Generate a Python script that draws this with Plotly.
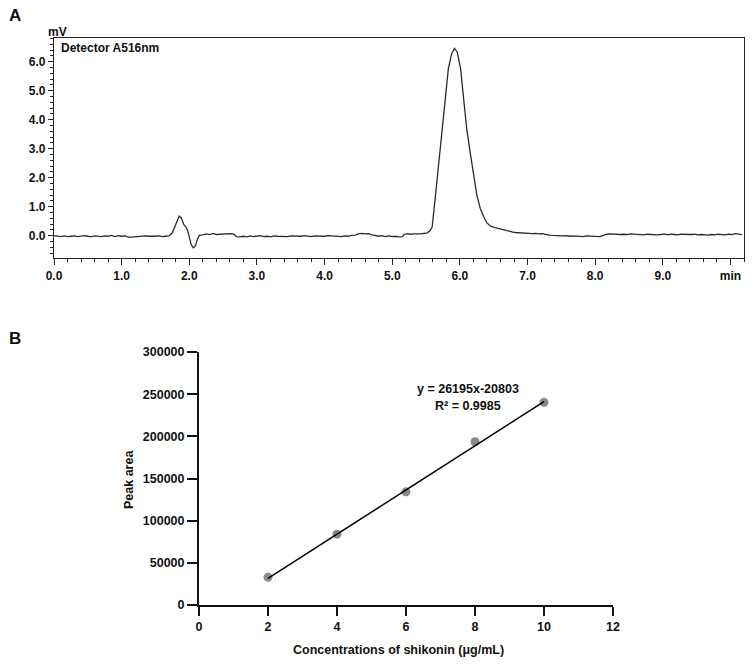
import numpy as np
import plotly.graph_objects as go

# ---- panel A: chromatogram ----
time_min = [
    0.00, 0.05, 0.10, 0.15, 0.20, 0.25, 0.30, 0.35, 0.40, 0.45, 0.50, 0.55, 0.60, 0.65, 0.70,
    0.75, 0.80, 0.85, 0.90, 0.95, 1.00, 1.05, 1.10, 1.15, 1.20, 1.25, 1.30, 1.35, 1.40, 1.45,
    1.50, 1.55, 1.60, 1.65, 1.70, 1.75, 1.80, 1.85, 1.88, 1.92, 1.95, 1.98, 2.00, 2.03, 2.06,
    2.09, 2.12, 2.15, 2.20, 2.25, 2.30, 2.35, 2.40, 2.45, 2.50, 2.55, 2.60, 2.65, 2.70, 2.75,
    2.80, 2.85, 2.90, 2.95, 3.00, 3.05, 3.10, 3.15, 3.20, 3.25, 3.30, 3.35, 3.40, 3.45, 3.50,
    3.55, 3.60, 3.65, 3.70, 3.75, 3.80, 3.85, 3.90, 3.95, 4.00, 4.05, 4.10, 4.15, 4.20, 4.25,
    4.30, 4.35, 4.40, 4.45, 4.50, 4.55, 4.60, 4.65, 4.70, 4.75, 4.80, 4.85, 4.90, 4.95, 5.00,
    5.05, 5.10, 5.15, 5.18, 5.22, 5.27, 5.32, 5.37, 5.42, 5.47, 5.52, 5.56, 5.59, 5.64, 5.69,
    5.74, 5.79, 5.83, 5.88, 5.92, 5.96, 6.01, 6.06, 6.10, 6.15, 6.20, 6.25, 6.30, 6.35, 6.40,
    6.46, 6.52, 6.57, 6.62, 6.67, 6.72, 6.77, 6.82, 6.87, 6.92, 6.97, 7.02, 7.07, 7.12, 7.17,
    7.22, 7.27, 7.32, 7.37, 7.42, 7.47, 7.52, 7.57, 7.62, 7.67, 7.72, 7.77, 7.82, 7.87, 7.92,
    7.97, 8.02, 8.07, 8.12, 8.17, 8.22, 8.27, 8.32, 8.37, 8.42, 8.47, 8.52, 8.57, 8.62, 8.67,
    8.72, 8.77, 8.82, 8.87, 8.92, 8.97, 9.02, 9.07, 9.12, 9.17, 9.22, 9.27, 9.32, 9.37, 9.42,
    9.47, 9.52, 9.57, 9.62, 9.67, 9.72, 9.77, 9.82, 9.87, 9.92, 9.97, 10.02, 10.07, 10.12, 10.17,
]
signal_mv = [
    0.00, -0.02, -0.03, -0.01, -0.03, -0.02, -0.01, -0.03, -0.02, 0.00, -0.02, -0.03, -0.01, -0.02, -0.03,
    -0.01, -0.02, 0.01, -0.03, 0.00, -0.02, -0.01, -0.05, -0.05, -0.04, -0.02, -0.03, -0.01, -0.02, -0.03,
    -0.02, -0.01, -0.03, -0.02, -0.01, 0.10, 0.42, 0.68, 0.62, 0.38, 0.30, 0.15, -0.05, -0.32, -0.42,
    -0.35, -0.12, 0.02, 0.03, 0.06, 0.04, 0.08, 0.04, 0.05, 0.04, 0.06, 0.07, 0.06, -0.03, -0.04,
    -0.02, -0.04, -0.01, -0.03, -0.02, 0.00, -0.03, -0.02, -0.04, -0.01, -0.02, -0.03, -0.02, -0.03, -0.01,
    -0.02, -0.03, -0.02, 0.00, -0.02, -0.03, -0.01, -0.02, -0.03, -0.02, 0.00, -0.01, -0.03, -0.02, -0.03,
    -0.01, -0.02, 0.01, 0.02, 0.06, 0.08, 0.06, 0.07, 0.03, 0.01, -0.02, 0.00, -0.03, -0.01, -0.03,
    -0.02, -0.04, -0.03, 0.05, 0.07, 0.05, 0.06, 0.05, 0.06, 0.08, 0.10, 0.18, 0.30, 1.41, 2.56,
    3.71, 4.85, 5.77, 6.29, 6.46, 6.34, 5.77, 4.62, 3.71, 2.90, 2.10, 1.41, 0.95, 0.66, 0.44,
    0.32, 0.28, 0.25, 0.20, 0.17, 0.15, 0.13, 0.11, 0.10, 0.09, 0.09, 0.08, 0.07, 0.08, 0.06,
    0.07, 0.04, 0.02, 0.01, 0.00, 0.01, -0.01, 0.00, -0.02, -0.01, -0.02, -0.01, -0.03, -0.01, -0.02,
    -0.01, -0.02, -0.03, 0.01, 0.05, 0.06, 0.05, 0.06, 0.04, 0.05, 0.04, 0.06, 0.05, 0.04, 0.05,
    0.03, 0.05, 0.04, 0.05, 0.03, 0.04, 0.06, 0.03, 0.05, 0.04, 0.03, 0.05, 0.04, 0.03, 0.04,
    0.05, 0.03, 0.04, 0.03, 0.02, 0.04, 0.03, 0.05, 0.04, 0.03, 0.05, 0.04, 0.07, 0.05, 0.04,
]
time_ticks = [0, 1, 2, 3, 4, 5, 6, 7, 8, 9, 10]
time_labels = ["0.0", "1.0", "2.0", "3.0", "4.0", "5.0", "6.0", "7.0", "8.0", "9.0", "min"]
mv_ticks = [0, 1, 2, 3, 4, 5, 6]
mv_labels = ["0.0", "1.0", "2.0", "3.0", "4.0", "5.0", "6.0"]

# ---- panel B: calibration curve ----
conc = [2, 4, 6, 8, 10]
peak_area = [32900, 84000, 134200, 193600, 240300]
slope, intercept = 26195, -20803
conc_ticks = [0, 2, 4, 6, 8, 10, 12]

W, H = 753, 664
FONT = "Arial, Liberation Sans, sans-serif"

def px_x(p):
    return p / W

def px_y(p):
    return 1 - p / H

fig = go.Figure()

fig.add_trace(go.Scatter(x=time_min, y=signal_mv, mode="lines",
                         line=dict(color="#2b2b2b", width=1.3),
                         xaxis="x", yaxis="y", showlegend=False))

fig.add_trace(go.Scatter(x=conc, y=peak_area, mode="markers",
                         marker=dict(color="#8a8a8a", size=9),
                         xaxis="x2", yaxis="y2", showlegend=False))
fit_x = np.array(conc, dtype=float)
fig.add_trace(go.Scatter(x=fit_x, y=slope * fit_x + intercept, mode="lines",
                         line=dict(color="black", width=1.5),
                         xaxis="x2", yaxis="y2", showlegend=False))

tick_font = dict(family=FONT, size=12, color="#111", weight="bold")

fig.update_layout(
    width=W, height=H,
    margin=dict(l=0, r=0, t=0, b=0, autoexpand=False),
    paper_bgcolor="white", plot_bgcolor="white",
    xaxis=dict(domain=[px_x(54), px_x(744)], anchor="y", range=[0, 10.2],
               tickvals=time_ticks, ticktext=time_labels, tickfont=tick_font,
               showline=True, linecolor="#222", linewidth=1.3, mirror=True,
               ticks="outside", ticklen=6, tickwidth=1.2, tickcolor="#222",
               minor=dict(dtick=0.2, ticks="outside", ticklen=3, tickcolor="#222"),
               showgrid=False, zeroline=False, automargin=False),
    yaxis=dict(domain=[px_y(258), px_y(38)], anchor="x", range=[-0.77, 6.82],
               tickvals=mv_ticks, ticktext=mv_labels, tickfont=tick_font,
               showline=True, linecolor="#222", linewidth=1.3, mirror=True,
               ticks="outside", ticklen=5, tickwidth=1.2, tickcolor="#222",
               minor=dict(dtick=0.2, ticks="outside", ticklen=3, tickcolor="#222"),
               showgrid=False, zeroline=False, automargin=False),
    xaxis2=dict(domain=[px_x(199), px_x(613)], anchor="y2", range=[0, 12],
                tickvals=conc_ticks, tickfont=dict(tick_font, size=12.5),
                showline=True, linecolor="#111", linewidth=2,
                ticks="outside", ticklen=9, tickwidth=2, tickcolor="#111",
                showgrid=False, zeroline=False, automargin=False),
    yaxis2=dict(domain=[px_y(605), px_y(352)], anchor="x2", range=[0, 300000],
                dtick=50000, tickformat="d", tickfont=dict(tick_font, size=12.5),
                showline=True, linecolor="#111", linewidth=2,
                ticks="outside", ticklen=10, tickwidth=2, tickcolor="#111",
                showgrid=False, zeroline=False, automargin=False),
)

def note(text, x, y, size=12, xanchor="center", angle=0):
    fig.add_annotation(text=text, x=px_x(x), y=px_y(y), xref="paper", yref="paper",
                       xanchor=xanchor, yanchor="middle", showarrow=False, textangle=angle,
                       font=dict(family=FONT, size=size, color="#111", weight="bold"))

note("A", 7, 16, size=17, xanchor="left")
note("B", 7, 338, size=17, xanchor="left")
note("mV", 57, 32)
note("Detector A516nm", 59, 48, xanchor="left")
note("y = 26195x-20803", 468, 389, size=12.5)
note("R² = 0.9985", 468, 406, size=12.5)
note("Peak area", 129, 480, size=12.5, angle=-90)
note("Concentrations of shikonin (μg/mL)", 398, 650, size=12.5)

# page body has a default 8px margin; drop it so the figure sits at 0,0
fig.write_html("out.html", config={"displayModeBar": False},
               post_script="document.body.style.margin='0';")
